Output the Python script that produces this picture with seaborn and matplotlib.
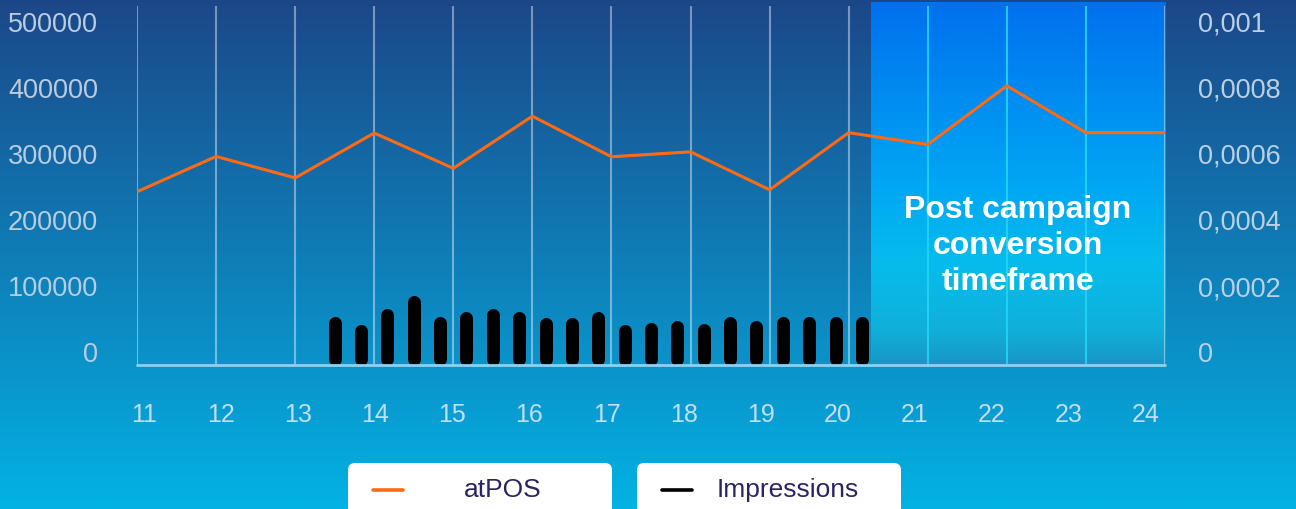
import numpy as np
import pandas as pd
import seaborn as sns
import matplotlib.pyplot as plt
from matplotlib.colors import LinearSegmentedColormap
from matplotlib.patches import FancyBboxPatch

# Data
days = [11, 12, 13, 14, 15, 16, 17, 18, 19, 20, 21, 22, 23, 24]
atpos = [0.000525, 0.000632, 0.000567, 0.000703, 0.000596, 0.000754, 0.000631,
         0.000646, 0.000531, 0.000704, 0.000668, 0.000846, 0.000704, 0.000704]
# impressions: three readings per day, from 13.5 to 20.17
impr_time = [13.5 + k / 3 for k in range(21)]
impressions = [74000, 61000, 86000, 106000, 74000, 81000, 86000, 81000, 72000, 72000,
               81000, 61000, 64000, 67000, 63000, 74000, 67000, 74000, 74000, 74000, 74000]
left_ticks = [0, 100000, 200000, 300000, 400000, 500000]
right_ticks = [0, 0.0002, 0.0004, 0.0006, 0.0008, 0.001]
right_labels = ["0", "0,0002", "0,0004", "0,0006", "0,0008", "0,001"]
post_start = 20.28

sns.set_theme(style="white")
plt.rcParams["font.family"] = ["Liberation Sans", "DejaVu Sans"]

W, H = 1296, 510
fig = plt.figure(figsize=(W / 100, H / 100), dpi=100)

# background gradient + legend live on a full-figure pixel axes
bg = fig.add_axes([0, 0, 1, 1], zorder=-1)
bg.set_xlim(0, W)
bg.set_ylim(H, 0)
bg.axis("off")
bg_cmap = LinearSegmentedColormap.from_list("bg", ["#1c4788", "#03b2e4"])
bg.imshow(np.linspace(0, 1, 256)[:, None], cmap=bg_cmap, aspect="auto",
          extent=(0, W, H, 0), zorder=0)

# main axes (pixel box 137..1165 x 7..366)
ax_l, ax_r, ax_t, ax_b = 137, 1165, 7, 366
ax = fig.add_axes([ax_l / W, 1 - ax_b / H, (ax_r - ax_l) / W, (ax_b - ax_t) / H], zorder=1)
ax.patch.set_alpha(0)
px = (ax_b - ax_t)
ymax = 500000 * px / 330
ymax2 = 0.001 * px / 330

# post campaign box
rect_cmap = LinearSegmentedColormap.from_list(
    "rect", [(0, "#0070ee"), (0.5, "#00a6f4"), (0.72, "#06bcec"), (0.9, "#10b0da"), (1, "#1a96c6")])
ax.imshow(np.linspace(0, 1, 256)[:, None], cmap=rect_cmap, aspect="auto",
          extent=(post_start, 24, 0, ymax * (366 - 3) / px), zorder=0, clip_on=False)

# grid lines
days_arr = np.array(days)
inside = (days_arr > post_start) & (days_arr < 24)
ax.vlines(days_arr[~inside], 0, ymax, colors="#ffffff", alpha=0.42, lw=1.5, zorder=1)
ax.vlines(days_arr[inside], 0, ymax, colors="#22d4f6", alpha=0.9, lw=1.5, zorder=1)

# impressions bars, drawn by seaborn then turned into rounded pills
df_imp = pd.DataFrame({"t": impr_time, "v": impressions})
sns.barplot(data=df_imp, x="t", y="v", native_scale=True, color="black", ax=ax, zorder=2)
bar_w_px = 13
r = bar_w_px / 2 * ymax / px
for p in list(ax.patches):
    xc = p.get_x() + p.get_width() / 2
    h = p.get_height()
    p.remove()
    ax.vlines(xc, r, h - r, colors="black", lw=bar_w_px * 0.72, capstyle="round", zorder=3)

ax.axhline(0, color="#8fd0ec", lw=2, zorder=4, clip_on=False)
ax.set_xlim(11, 24)
ax.set_ylim(0, ymax)

# ticks
label_pos = np.linspace(11.09, 23.76, len(days))
ax.set_xticks(label_pos, [str(d) for d in days])
shift = 14 * ymax / px
ax.set_yticks([t + shift for t in left_ticks], [str(t) for t in left_ticks])
ax.tick_params(axis="x", length=0, pad=27, labelsize=18, labelcolor="#c2def0")
ax.tick_params(axis="y", length=0, pad=28, labelsize=19.5, labelcolor="#b9cce0")
ax.set_xlabel("")
ax.set_ylabel("")
for s in ax.spines.values():
    s.set_visible(False)

# atPOS line on right axis
ax2 = ax.twinx()
ax2.patch.set_alpha(0)
sns.lineplot(x=days, y=atpos, ax=ax2, color="#ff6a13", lw=2.2, zorder=5)
ax2.set_ylim(0, ymax2)
ax2.set_xlim(11, 24)
ax2.set_yticks([t + 14 * ymax2 / px for t in right_ticks], right_labels)
ax2.tick_params(axis="y", length=0, pad=24, labelsize=19.5, labelcolor="#bcd0e4")
for s in ax2.spines.values():
    s.set_visible(False)

fig.text(1018 / W, 1 - 246 / H, "Post campaign\nconversion\ntimeframe", ha="center", va="center",
         fontsize=23, fontweight="bold", color="white", linespacing=1.28, zorder=10)

# legend boxes
for x0, col, label, lx in [(348, "#ff6a13", "atPOS", 503), (637, "black", "Impressions", 788)]:
    bg.add_patch(FancyBboxPatch((x0, 464), 264, 70, boxstyle="round,pad=0,rounding_size=7",
                                fc="white", ec="none", zorder=2))
    bg.plot([x0 + 25, x0 + 55], [491, 491], color=col, lw=2.6, zorder=3)
    bg.text(lx, 490, label, ha="center", va="center", fontsize=19, color="#2b2463", zorder=3)

fig.savefig("out.png", dpi=100)
